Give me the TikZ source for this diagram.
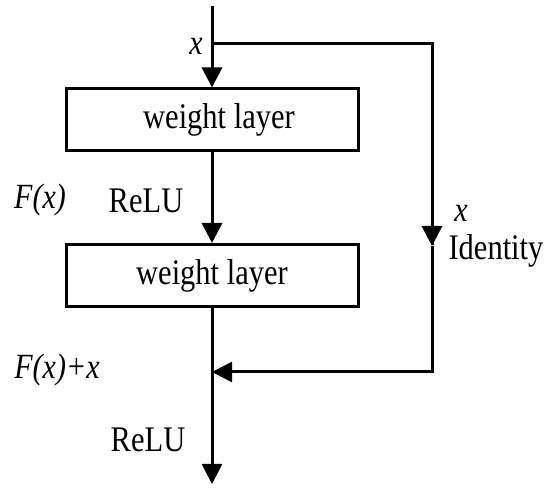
\documentclass[tikz,border=0pt]{standalone}
\usepackage{fontspec}
\setmainfont{Liberation Serif}
\usetikzlibrary{arrows.meta}
\newcommand{\stx}[1]{\scalebox{1}[1.18]{#1}}
\begin{document}
\begin{tikzpicture}[x=1pt,y=-1pt,
  conn/.style={line width=3pt},
  arr/.style={conn,-{Triangle[length=20pt,width=20pt]}},
  layerbox/.style={draw,line width=3pt,minimum width=292pt,minimum height=62pt,inner sep=0pt,font=\fontsize{30.5}{36}\selectfont},
  lbl/.style={inner sep=0pt,font=\fontsize{30.5}{36}\selectfont},
  ilbl/.style={lbl,font=\fontsize{30}{36}\selectfont\itshape}]
\useasboundingbox (0,0) rectangle (550,489);
\coordinate (top) at (212,6);
\coordinate (split) at (212,44);
\coordinate (rtop) at (432,44);
\coordinate (rmid) at (432,246);
\coordinate (rbot) at (432,372);
\coordinate (merge) at (212,372);
\coordinate (out) at (212,484);
\node[layerbox] (w1) at (212,120) {\hspace*{14pt}\stx{weight layer}};
\node[layerbox] (w2) at (212,275.5) {\stx{weight layer}};
\draw[arr] (top) -- (w1.north);
\draw[arr] (w1.south) -- (w2.north);
\draw[arr] (w2.south) -- (out);
\draw[conn] (split) -- (rtop) -- ([yshift=1pt]rmid);
\draw[arr] (rtop) -- (rmid);
\draw[arr] (rmid) -- (rbot) -- (merge);
\node[ilbl] (xtop) at (196,46) {\stx{x}};
\node[ilbl] (fx) at (40,200) {\stx{F(x)}};
\node[lbl] (relu1) at (146,201) {\stx{ReLU}};
\node[ilbl] (xid) at (461,213) {\stx{x}};
\node[lbl] (ident) at (496,251) {\stx{Identity}};
\node[ilbl] (fxx) at (57,370) {\stx{F(x)+x}};
\node[lbl] (relu2) at (148,440) {\stx{ReLU}};
\end{tikzpicture}
\end{document}
